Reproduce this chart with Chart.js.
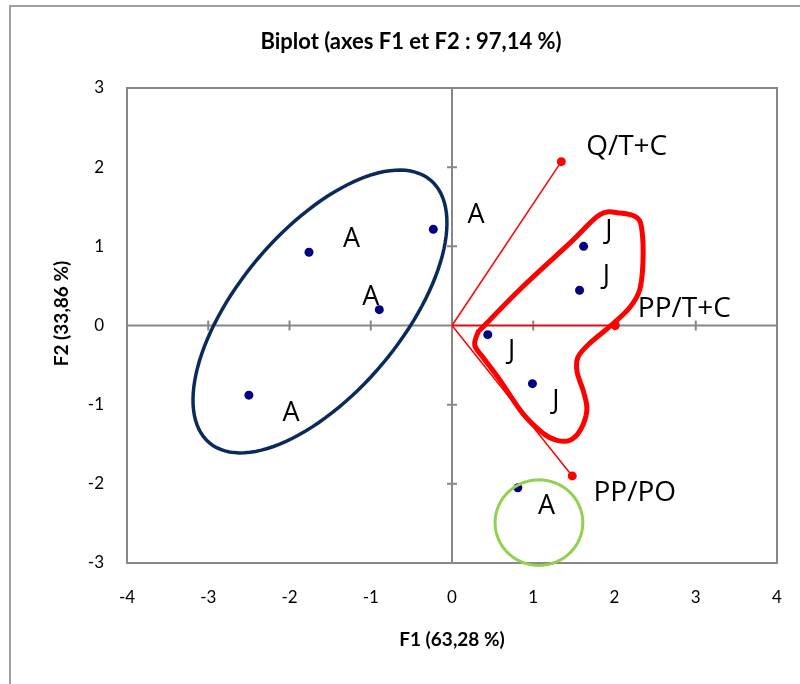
<!DOCTYPE html>
<html>
<head>
<meta charset="utf-8">
<title>Biplot (axes F1 et F2)</title>
<script src="https://cdn.jsdelivr.net/npm/chart.js@4/dist/chart.umd.min.js"></script>
<style>
  html, body { margin: 0; padding: 0; background: #fff; }
  canvas { display: block; }
</style>
</head>
<body>
<canvas id="biplot" width="800" height="684"></canvas>
<script>
'use strict';

// observations (F1, F2 scores)
var obsX = [-1.76, -0.23, -0.895, -2.50, 1.62, 1.57, 0.44, 0.99, 0.81];
var obsY = [0.925, 1.215, 0.20, -0.88, 1.00, 0.445, -0.116, -0.735, -2.05];
var obsLabels = ['A', 'A', 'A', 'A', 'J', 'J', 'J', 'J', 'A'];
// where each observation's label sits
var obsLabelX = [-1.235, 0.295, -1.00, -1.98, 1.93, 1.90, 0.735, 1.28, 1.165];
var obsLabelY = [1.09, 1.39, 0.36, -1.11, 1.19, 0.62, -0.33, -0.96, -2.28];

// variables (loadings drawn as vectors from the origin)
var varNames = ['Q/T+C', 'PP/T+C', 'PP/PO'];
var varX = [1.345, 2.01, 1.48];
var varY = [2.07, 0, -1.90];
var varLabelX = [2.15, 2.86, 2.25];
var varLabelY = [2.26, 0.21, -2.12];

var xTicks = [-4, -3, -2, -1, 0, 1, 2, 3, 4];
var yTicks = [-3, -2, -1, 0, 1, 2, 3];

var GRAY = '#878787';

// hand drawn groupings (data units)
var blueGroup = { cx: -1.625, cy: 0.177, u: [1.36, 1.66], v: [-0.77, 0.66] };
var greenGroup = { cx: 1.07, cy: -2.49, u: [0.54, 0], v: [0, 0.54] };
var redGroupX = [0.38, 0.87, 1.45, 1.82, 2.07, 2.28, 2.34, 2.35, 2.31, 2.19, 1.98, 1.70, 1.55, 1.54, 1.62, 1.66, 1.58, 1.45, 1.29, 1.12, 0.87, 0.59, 0.38, 0.28, 0.32];
var redGroupY = [-0.02, 0.49, 1.04, 1.40, 1.42, 1.36, 1.18, 0.79, 0.45, 0.23, 0.02, -0.22, -0.40, -0.59, -0.84, -1.07, -1.32, -1.45, -1.45, -1.36, -1.11, -0.69, -0.40, -0.25, -0.09];

var observations = obsX.map(function(x, i) { return { x: x, y: obsY[i] }; });

var vectorSets = varNames.map(function(name, i) {
    return {
        label: name,
        data: [{ x: 0, y: 0 }, { x: varX[i], y: varY[i] }],
        showLine: true,
        borderColor: '#ff0000',
        borderWidth: 1.5,
        pointRadius: [0, 4.5],
        pointBackgroundColor: '#ff0000',
        pointBorderWidth: 0
    };
});

var drawEllipse = function(ctx, xs, ys, g, color, width) {
    ctx.beginPath();
    for (var k = 0; k <= 120; k++) {
        var t = k / 120 * Math.PI * 2;
        var dx = g.cx + Math.cos(t) * g.u[0] + Math.sin(t) * g.v[0];
        var dy = g.cy + Math.cos(t) * g.u[1] + Math.sin(t) * g.v[1];
        var px = xs.getPixelForValue(dx), py = ys.getPixelForValue(dy);
        if (k === 0) ctx.moveTo(px, py); else ctx.lineTo(px, py);
    }
    ctx.closePath();
    ctx.strokeStyle = color;
    ctx.lineWidth = width;
    ctx.stroke();
};

// closed Catmull-Rom curve through the outline points
var drawBlob = function(ctx, xs, ys, color, width) {
    var pts = redGroupX.map(function(x, i) {
        return { x: xs.getPixelForValue(x), y: ys.getPixelForValue(redGroupY[i]) };
    });
    var n = pts.length;
    ctx.beginPath();
    ctx.moveTo(pts[0].x, pts[0].y);
    for (var i = 0; i < n; i++) {
        var p0 = pts[(i - 1 + n) % n], p1 = pts[i], p2 = pts[(i + 1) % n], p3 = pts[(i + 2) % n];
        ctx.bezierCurveTo(p1.x + (p2.x - p0.x) / 6, p1.y + (p2.y - p0.y) / 6,
                          p2.x - (p3.x - p1.x) / 6, p2.y - (p3.y - p1.y) / 6, p2.x, p2.y);
    }
    ctx.closePath();
    ctx.strokeStyle = color;
    ctx.lineWidth = width;
    ctx.lineJoin = 'round';
    ctx.stroke();
};

var biplotDecor = {
    id: 'biplotDecor',
    beforeDraw: function(chart) {
        var ctx = chart.ctx;
        ctx.save();
        ctx.fillStyle = '#fff';
        ctx.fillRect(0, 0, chart.width, chart.height);
        ctx.strokeStyle = '#a0a0a0';
        ctx.lineWidth = 2;
        ctx.strokeRect(10, 6, chart.width + 20, chart.height + 20);
        ctx.restore();
    },
    beforeDatasetsDraw: function(chart) {
        var ctx = chart.ctx, a = chart.chartArea;
        var xs = chart.scales.x, ys = chart.scales.y;
        var x0 = xs.getPixelForValue(0), y0 = ys.getPixelForValue(0);
        ctx.save();
        ctx.strokeStyle = GRAY;
        ctx.lineWidth = 2;
        ctx.strokeRect(a.left, a.top, a.right - a.left, a.bottom - a.top);
        ctx.beginPath();
        ctx.moveTo(a.left, y0); ctx.lineTo(a.right, y0);
        ctx.moveTo(x0, a.top); ctx.lineTo(x0, a.bottom);
        // cross ticks on the zero axes
        xTicks.forEach(function(v) {
            var px = xs.getPixelForValue(v);
            ctx.moveTo(px, y0 - 5); ctx.lineTo(px, y0 + 5);
        });
        yTicks.forEach(function(v) {
            var py = ys.getPixelForValue(v);
            ctx.moveTo(x0 - 5, py); ctx.lineTo(x0 + 5, py);
        });
        ctx.stroke();
        ctx.restore();
    },
    afterDatasetsDraw: function(chart) {
        var ctx = chart.ctx, a = chart.chartArea;
        var xs = chart.scales.x, ys = chart.scales.y;
        ctx.save();
        drawEllipse(ctx, xs, ys, blueGroup, '#0b2a5c', 3.5);
        drawEllipse(ctx, xs, ys, greenGroup, '#92d050', 3);
        drawBlob(ctx, xs, ys, '#ff0000', 5);

        ctx.fillStyle = '#000';
        ctx.font = '27px "Open Sans"';
        ctx.textAlign = 'center';
        ctx.textBaseline = 'middle';
        obsLabels.forEach(function(t, i) {
            ctx.fillText(t, xs.getPixelForValue(obsLabelX[i]), ys.getPixelForValue(obsLabelY[i]));
        });
        ctx.font = '28px "Open Sans"';
        varNames.forEach(function(t, i) {
            ctx.fillText(t, xs.getPixelForValue(varLabelX[i]), ys.getPixelForValue(varLabelY[i]));
        });

        // vertical axis title
        ctx.font = 'bold 19px Lato';
        ctx.translate(62, (a.top + a.bottom) / 2 - 12);
        ctx.rotate(-Math.PI / 2);
        ctx.fillText('F2 (33,86 %)', 0, 0);
        ctx.restore();
    }
};

var ctx = document.getElementById('biplot');
var biplot = new Chart(ctx, {
    type: 'scatter',
    data: {
        datasets: [{
            label: 'Observations',
            data: observations,
            pointRadius: 4.5,
            pointBackgroundColor: '#000080',
            pointBorderWidth: 0
        }].concat(vectorSets)
    },
    options: {
        responsive: false,
        animation: false,
        layout: { padding: { left: 45, right: 23, top: 0, bottom: 0 } },
        plugins: {
            legend: { display: false },
            tooltip: { enabled: false },
            title: {
                display: true,
                text: 'Biplot (axes F1 et F2 : 97,14 %)',
                color: '#000',
                font: { family: 'Lato', size: 22, weight: 'bold' },
                padding: { top: 29, bottom: 32.6 }
            }
        },
        scales: {
            x: {
                type: 'linear',
                min: -4,
                max: 4,
                grid: { display: false, drawTicks: false },
                border: { display: false },
                ticks: {
                    stepSize: 1,
                    padding: 24,
                    color: '#000',
                    font: { family: 'Lato', size: 17 }
                },
                title: {
                    display: true,
                    text: 'F1 (63,28 %)',
                    color: '#000',
                    font: { family: 'Lato', size: 19, weight: 'bold' },
                    padding: { bottom: 33 }
                },
                afterFit: function(scale) {
                    scale.height = 121;
                    scale.paddingLeft = 0;
                    scale.paddingRight = 0;
                }
            },
            y: {
                type: 'linear',
                min: -3,
                max: 3,
                grid: { display: false, drawTicks: false },
                border: { display: false },
                ticks: {
                    stepSize: 1,
                    padding: 23,
                    color: '#000',
                    font: { family: 'Lato', size: 17 }
                },
                afterFit: function(scale) { scale.width = 82; }
            }
        }
    },
    plugins: [biplotDecor]
});
</script>
</body>
</html>
